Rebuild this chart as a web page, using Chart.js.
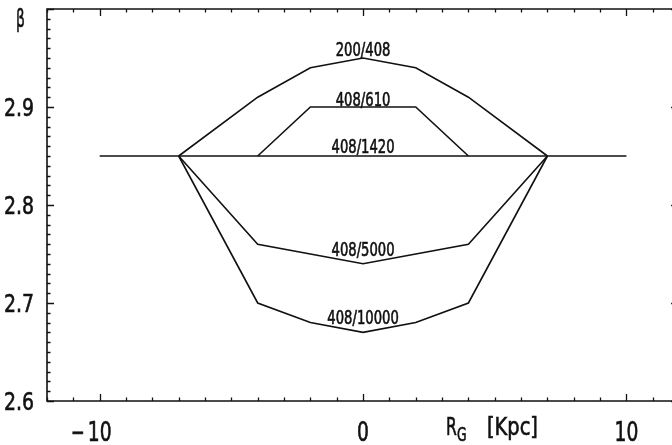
<!DOCTYPE html>
<html>
<head>
<meta charset="utf-8">
<script src="https://cdn.jsdelivr.net/npm/chart.js@4/dist/chart.umd.min.js"></script>
<style>
  html, body { margin: 0; padding: 0; background: #fff; }
  #wrap { width: 672px; height: 445px; }
</style>
</head>
<body>
<div id="wrap"><canvas id="c" width="672" height="445"></canvas></div>
<script>
// Spectral index beta versus galactocentric distance for several frequency pairs
const rg200_408 = [-7, -4, -2, 0, 2, 4, 7];
const beta200_408 = [2.85, 2.91, 2.94, 2.95, 2.94, 2.91, 2.85];

const rg408_610 = [-4, -2, 2, 4];
const beta408_610 = [2.85, 2.90, 2.90, 2.85];

const rg408_1420 = [-10, 10];
const beta408_1420 = [2.85, 2.85];

const rg408_5000 = [-7, -4, 0, 4, 7];
const beta408_5000 = [2.85, 2.76, 2.74, 2.76, 2.85];

const rg408_10000 = [-7, -4, -2, 0, 2, 4, 7];
const beta408_10000 = [2.85, 2.70, 2.68, 2.67, 2.68, 2.70, 2.85];

const seriesNames = ['200/408', '408/610', '408/1420', '408/5000', '408/10000'];
// beta value at which each curve's name sits (text baseline, at R_G = 0)
const nameBeta = [2.952, 2.9015, 2.853, 2.748, 2.679];

const xTickLabels = [-10, 0, 10];
const yTickLabels = [2.6, 2.7, 2.8, 2.9];

const FONT = "'DejaVu Sans Condensed', 'DejaVu Sans', sans-serif";

function pts(xs, ys) { return xs.map((x, i) => ({ x: x, y: ys[i] })); }

const allX = [rg200_408, rg408_610, rg408_1420, rg408_5000, rg408_10000];
const allY = [beta200_408, beta408_610, beta408_1420, beta408_5000, beta408_10000];

const datasets = seriesNames.map((name, i) => ({
  label: name,
  data: pts(allX[i], allY[i]),
  borderColor: '#111',
  borderWidth: 1.6,
  pointRadius: 0,
  tension: 0,
  fill: false
}));

// narrow lettering: draw text squeezed horizontally, slightly thickened
function say(ctx, text, x, y, size, align, sx) {
  ctx.save();
  ctx.font = size + 'px ' + FONT;
  ctx.textAlign = align;
  ctx.textBaseline = 'alphabetic';
  ctx.translate(x, y);
  ctx.scale(sx, 1);
  ctx.fillText(text, 0, 0);
  ctx.lineWidth = 0.6;
  ctx.strokeText(text, 0, 0);
  ctx.restore();
}
function widthOf(ctx, text, size, sx) {
  ctx.save();
  ctx.font = size + 'px ' + FONT;
  const w = ctx.measureText(text).width * sx;
  ctx.restore();
  return w;
}

// Frame, inward ticks, tick labels, axis titles and curve names
const framePlugin = {
  id: 'frame',
  afterDatasetsDraw(chart) {
    const ctx = chart.ctx;
    const xs = chart.scales.x, ys = chart.scales.y;
    const a = chart.chartArea;
    const rightAxis = xs.getPixelForValue(12);
    ctx.save();
    ctx.strokeStyle = '#111';
    ctx.fillStyle = '#111';
    ctx.lineWidth = 1.6;
    ctx.beginPath();
    ctx.moveTo(rightAxis, a.top); ctx.lineTo(a.left, a.top);
    ctx.lineTo(a.left, a.bottom); ctx.lineTo(rightAxis, a.bottom);
    ctx.lineTo(rightAxis, a.top);
    ctx.stroke();

    ctx.lineWidth = 1.3;
    ctx.beginPath();
    for (let v = -12; v <= 12; v++) {
      const px = Math.round(xs.getPixelForValue(v)) + 0.5;
      const len = (v % 10 === 0) ? 7 : 3.5;
      ctx.moveTo(px, a.bottom); ctx.lineTo(px, a.bottom - len);
      ctx.moveTo(px, a.top); ctx.lineTo(px, a.top + len);
    }
    for (let k = Math.round(ys.min * 100); k <= Math.round(ys.max * 100); k++) {
      const py = Math.round(ys.getPixelForValue(k / 100)) + 0.5;
      const len = (k % 10 === 0) ? 7 : 3.5;
      ctx.moveTo(a.left, py); ctx.lineTo(a.left + len, py);
      ctx.moveTo(rightAxis, py); ctx.lineTo(rightAxis - len - 1, py);
    }
    ctx.stroke();

    // y tick labels
    yTickLabels.forEach(v => {
      say(ctx, v.toFixed(1), 34, ys.getPixelForValue(v) + 9, 25, 'right', 0.84);
    });

    // x tick labels, the number centred on its tick, the minus sign hanging left
    xTickLabels.forEach(v => {
      const px = xs.getPixelForValue(v);
      const num = String(Math.abs(v));
      const w = widthOf(ctx, num, 26, 0.8);
      say(ctx, num, px - w / 2, 441, 26, 'left', 0.8);
      if (v < 0) say(ctx, '\u2212', px - w / 2 - 3, 441, 26, 'right', 0.7);
    });

    // axis title R_G [Kpc]
    say(ctx, 'R', 446, 435, 24, 'left', 0.72);
    say(ctx, 'G', 457, 441, 19, 'left', 0.72);
    say(ctx, '[Kpc]', 487, 435, 24, 'left', 0.9);

    // y axis symbol
    say(ctx, '\u03B2', 16, 27, 25, 'left', 0.62);

    // curve names
    seriesNames.forEach((name, i) => {
      say(ctx, name, xs.getPixelForValue(0), ys.getPixelForValue(nameBeta[i]), 19, 'center', 0.77);
    });
    ctx.restore();
  }
};

new Chart(document.getElementById('c'), {
  type: 'line',
  data: { datasets: datasets },
  options: {
    responsive: false,
    animation: false,
    devicePixelRatio: 1,
    layout: { padding: { top: 9, right: 0, left: 0, bottom: 0 } },
    plugins: { legend: { display: false }, tooltip: { enabled: false } },
    scales: {
      x: {
        type: 'linear',
        min: -12, max: 11.73,
        grid: { display: false },
        border: { display: false },
        ticks: { display: false },
        afterBuildTicks: s => { s.ticks = xTickLabels.map(v => ({ value: v })); },
        afterFit: s => { s.height = 44; s.paddingLeft = 0; s.paddingRight = 0; }
      },
      y: {
        type: 'linear',
        min: 2.6, max: 3.0,
        grid: { display: false },
        border: { display: false },
        ticks: { display: false },
        afterBuildTicks: s => { s.ticks = yTickLabels.map(v => ({ value: v })); },
        afterFit: s => { s.width = 47; s.paddingTop = 0; s.paddingBottom = 0; }
      }
    }
  },
  plugins: [framePlugin]
});
</script>
</body>
</html>
